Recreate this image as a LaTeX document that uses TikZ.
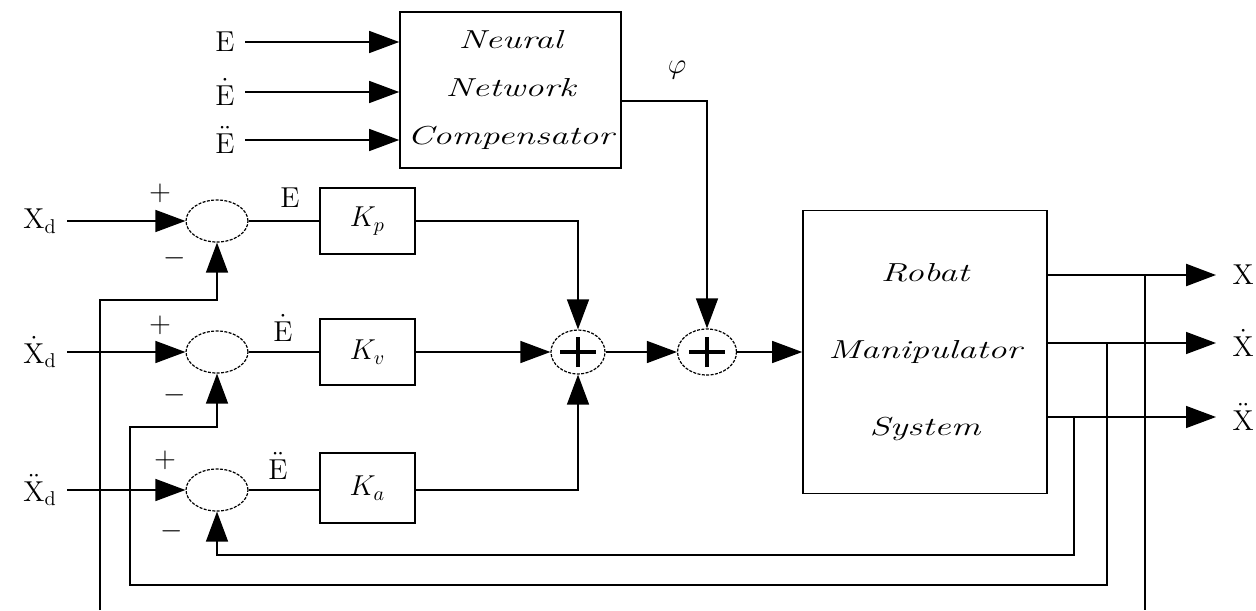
\documentclass[tikz,border=0pt]{standalone}
\usepackage{graphicx}
\usetikzlibrary{arrows.meta,shapes.geometric}

\newcommand{\widetxt}[1]{\scalebox{1.42}[1]{#1}}

\tikzset{
  sigarrow/.style={-{Triangle[length=15pt,width=11pt]}},
  blockbox/.style={draw, line width=0.8pt, inner sep=0pt},
  gainbox/.style={blockbox, minimum width=47.5pt, minimum height=33pt, font=\Large},
  errnode/.style={ellipse, draw, line width=0.6pt, dash pattern=on 1.5pt off 0.7pt,
    minimum width=31pt, minimum height=21pt, inner sep=0pt},
  plusnode/.style={ellipse, draw, line width=0.6pt, dash pattern=on 1.5pt off 0.7pt,
    inner sep=0pt},
  inlabel/.style={font=\Large, inner sep=5pt},
  signlabel/.style={font=\Large, inner sep=0pt},
  outlabel/.style={font=\Large, anchor=west, inner sep=0pt},
}

\begin{document}
\begin{tikzpicture}[x=0.5pt, y=-0.5pt, line width=0.7pt]
    \useasboundingbox (0,0) rectangle (1256,610);

    %% Compensator block and its inputs
    \node[blockbox, minimum width=110.5pt, minimum height=78pt, align=center,
        font=\fontsize{13}{24}\selectfont\itshape] (nn) at (510.5,90)
        {\widetxt{Neural}\\\widetxt{Network}\\\widetxt{Compensator}};
    \node[inlabel] (ne1) at (225,42)  {$\mathrm{E}$};
    \node[inlabel] (ne2) at (225,92)  {$\dot{\mathrm{E}}$};
    \node[inlabel] (ne3) at (225,140) {$\ddot{\mathrm{E}}$};
    \draw[sigarrow] (ne1.east) -- (ne1.east -| nn.west);
    \draw[sigarrow] (ne2.east) -- (ne2.east -| nn.west);
    \draw[sigarrow] (ne3.east) -- (ne3.east -| nn.west);

    %% Error junctions
    \node[errnode] (s1) at (217,221) {};
    \node[errnode] (s2) at (217,352) {};
    \node[errnode] (s3) at (217,490) {};
    \node[inlabel] (xd1) at (40,221) {$\mathrm{X_d}$};
    \node[inlabel] (xd2) at (40,352) {$\dot{\mathrm{X}}_\mathrm{d}$};
    \node[inlabel] (xd3) at (40,490) {$\ddot{\mathrm{X}}_\mathrm{d}$};
    \draw[sigarrow] (xd1.east) -- (s1.west);
    \draw[sigarrow] (xd2.east) -- (s2.west);
    \draw[sigarrow] (xd3.east) -- (s3.west);

    %% Signs
    \node[signlabel] (p1) at (160,193) {$+$};
    \node[signlabel] (m1) at (175,258) {$-$};
    \node[signlabel] (p2) at (160,325) {$+$};
    \node[signlabel] (m2) at (175,395) {$-$};
    \node[signlabel] (p3) at (165,460) {$+$};
    \node[signlabel] (m3) at (172,531) {$-$};

    %% Gains
    \node[gainbox] (kp) at (367.5,221) {$K_p$};
    \node[gainbox] (kv) at (367.5,352) {$K_v$};
    \node[gainbox, minimum height=35pt] (ka) at (367.5,488) {$K_a$};
    \draw (s1.east) -- (kp.west);
    \draw (s2.east) -- (kv.west);
    \draw (s3.east) -- (s3.east -| ka.west);
    \node[font=\Large] (e1) at (290,198) {$\mathrm{E}$};
    \node[font=\Large] (e2) at (283,328) {$\dot{\mathrm{E}}$};
    \node[font=\Large] (e3) at (278,466) {$\ddot{\mathrm{E}}$};

    %% Summing junctions
    \node[plusnode, minimum width=27pt, minimum height=22pt] (sa) at (578,352) {};
    \node[plusnode, minimum width=29.5pt, minimum height=23pt] (sb) at (707,352) {};
    \foreach \s in {sa,sb} {
        \draw[line width=2pt] ([xshift=-9pt]\s.center) -- ([xshift=9pt]\s.center);
        \draw[line width=2pt] ([yshift=-7.5pt]\s.center) -- ([yshift=7.5pt]\s.center);
    }
    \draw[sigarrow] (kp.east) -| (sa.north);
    \draw[sigarrow] (kv.east) -- (sa.west);
    \draw[sigarrow] (s3.east -| ka.east) -| (sa.south);
    \draw[sigarrow] (sa.east) -- (sb.west);
    \draw[sigarrow] ([yshift=-5.5pt]nn.east) -| (sb.north);
    \node[font=\Large] (phi) at (677,70) {$\varphi$};

    %% Plant
    \node[blockbox, minimum width=122pt, minimum height=141.5pt, align=center,
        font=\fontsize{13}{38.5}\selectfont\itshape] (rob) at (925,352)
        {\widetxt{Robat}\\\widetxt{Manipulator}\\\widetxt{System}};
    \draw[sigarrow] (sb.east) -- (rob.west);

    %% Outputs
    \node[outlabel] (xo1) at (1232,275) {$\mathrm{X}$};
    \node[outlabel] (xo2) at (1232,343) {$\dot{\mathrm{X}}$};
    \node[outlabel] (xo3) at (1232,417) {$\ddot{\mathrm{X}}$};
    \draw[sigarrow, line width=1.2pt] (rob.east |- xo1.west) -- ([xshift=-8pt]xo1.west);
    \draw[sigarrow] (rob.east |- xo2.west) -- ([xshift=-8pt]xo2.west);
    \draw[sigarrow] (rob.east |- xo3.west) -- ([xshift=-8pt]xo3.west);

    %% Feedback paths
    \coordinate (fx1) at (1145,275);
    \coordinate (fx2) at (1145,610);
    \coordinate (fx3) at (100,610);
    \coordinate (fx4) at (100,300);
    \draw (fx1) -- (fx2);
    \draw[sigarrow] (fx3) -- (fx4) -- (s1.south |- fx4) -- (s1.south);

    \coordinate (fv1) at (1107,343);
    \coordinate (fv2) at (130,585);
    \coordinate (fv3) at (130,427);
    \draw[sigarrow] (fv1) |- (fv2) -- (fv3) -- (s2.south |- fv3) -- (s2.south);

    \coordinate (fa1) at (1074,417);
    \coordinate (fa2) at (217,555);
    \draw[sigarrow] (fa1) |- (fa2) -- (s3.south);
\end{tikzpicture}
\end{document}
